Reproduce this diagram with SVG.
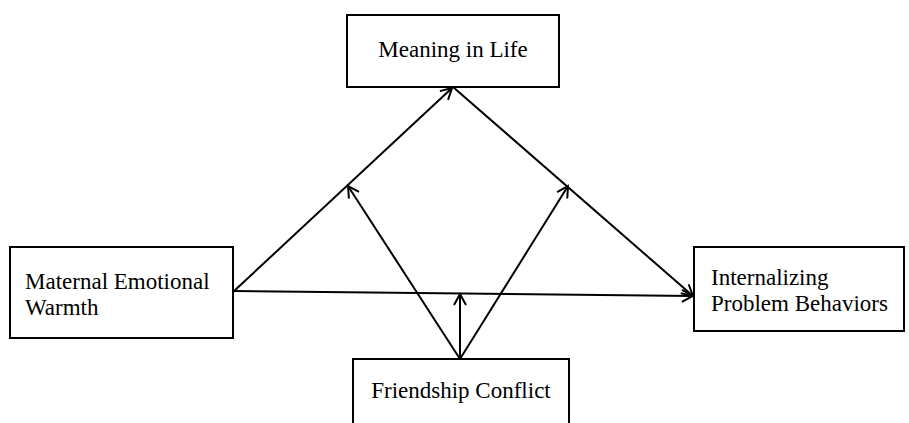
<svg xmlns="http://www.w3.org/2000/svg" width="909" height="423" viewBox="0 0 909 423">
<defs>
<marker id="arr" markerWidth="14" markerHeight="14" refX="12" refY="7" orient="auto" markerUnits="userSpaceOnUse">
<path d="M1,1 L12,7 L1,13" fill="none" stroke="#000" stroke-width="2"/>
</marker>
<style>
.box{fill:#fff;stroke:#000;stroke-width:2}
.t{font-family:"Liberation Serif","Times New Roman",serif;font-size:23px;fill:#000}
.c{fill:none;stroke:#000;stroke-width:2}
</style>
</defs>
<rect width="909" height="423" fill="#fff"/>
<g id="connectors">
<line class="c" x1="233" y1="292" x2="452" y2="88" marker-end="url(#arr)"/>
<line class="c" x1="453" y1="87" x2="693" y2="296" marker-end="url(#arr)"/>
<line class="c" x1="233" y1="291" x2="693" y2="296" marker-end="url(#arr)"/>
<line class="c" x1="460" y1="359" x2="460" y2="294" marker-end="url(#arr)"/>
<line class="c" x1="460" y1="359" x2="348" y2="186" marker-end="url(#arr)"/>
<line class="c" x1="460" y1="359" x2="568" y2="186" marker-end="url(#arr)"/>
</g>
<g id="meaning">
<rect class="box" x="347" y="15" width="212" height="72"/>
<text class="t" x="453" y="57" text-anchor="middle">Meaning in Life</text>
</g>
<g id="maternal">
<rect class="box" x="10" y="247" width="223" height="91"/>
<text class="t" x="25" y="289">Maternal Emotional</text>
<text class="t" x="25" y="315">Warmth</text>
</g>
<g id="internalizing">
<rect class="box" x="694" y="247" width="210" height="84"/>
<text class="t" x="711" y="285">Internalizing</text>
<text class="t" x="711" y="311">Problem Behaviors</text>
</g>
<g id="friendship">
<rect class="box" x="353" y="359" width="216" height="80"/>
<text class="t" x="461" y="398" text-anchor="middle">Friendship Conflict</text>
</g>
</svg>
